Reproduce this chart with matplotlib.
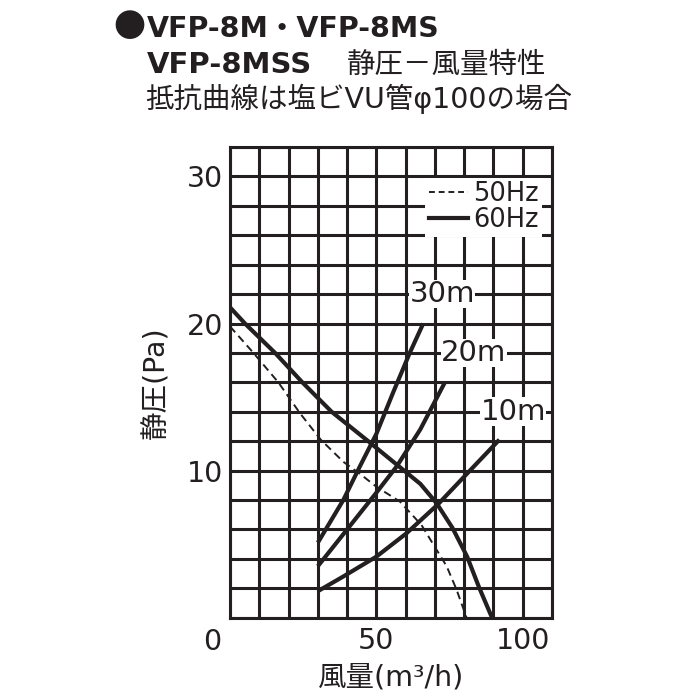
import matplotlib
matplotlib.use("Agg")
import matplotlib.pyplot as plt
from matplotlib.ticker import MultipleLocator
from matplotlib.lines import Line2D

plt.rcParams['font.family'] = ['DejaVu Sans', 'Noto Sans CJK JP']

ink = '#231f20'

# 静圧-風量特性
q_60 = [0, 5.1, 15.4, 24.7, 34.7, 47.2, 57, 65, 70.5, 76, 81, 85, 89.5]
p_60 = [21.1, 20.0, 18.0, 16.0, 14.0, 12.0, 10.4, 9.1, 7.8, 6.1, 4.15, 2.1, 0]
q_50 = [0, 8, 16.5, 23.9, 31, 38.7, 44.9, 50, 58, 65.4, 70, 74, 77.4, 80.8]
p_50 = [19.8, 18.0, 16.0, 13.9, 12.1, 10.6, 9.7, 8.9, 7.9, 6.3, 4.8, 3.5, 1.9, 0]

# 抵抗曲線
q_30m = [30, 38.7, 44.4, 50, 55.7, 61.4, 66]
p_30m = [5.1, 8.0, 10.3, 12.5, 15.3, 18.0, 20.0]
q_20m = [30, 40, 50, 57, 65, 73.4]
p_20m = [3.5, 6.0, 8.5, 10.3, 12.8, 16.0]
q_10m = [30, 38.7, 50, 60.3, 71, 81, 92]
p_10m = [1.8, 2.8, 4.15, 5.74, 7.7, 9.8, 12.1]

pipe_labels = ['30m', '20m', '10m']
label_pos = [(72.5, 22), (83.3, 18), (96.7, 14)]

fig = plt.figure(figsize=(7, 7), dpi=100)
ax = fig.add_axes([0.3286, 0.1176, 0.46, 0.6724])

ax.set_xlim(0, 110)
ax.set_ylim(0, 32)
ax.xaxis.set_minor_locator(MultipleLocator(10))
ax.yaxis.set_minor_locator(MultipleLocator(2))
ax.grid(True, which='both', color=ink, lw=2.2)
ax.set_axisbelow(True)
for s in ax.spines.values():
    s.set_color(ink)
    s.set_linewidth(2.2)
ax.set_xticks([50, 100])
ax.set_yticks([10, 20, 30])
ax.tick_params(which='both', length=0, labelsize=20.5, colors=ink)
ax.tick_params(axis='x', pad=7)
ax.tick_params(axis='y', pad=5)
ax.text(-0.055, -0.022, '0', transform=ax.transAxes, ha='center', va='top',
        fontsize=20.5, color=ink)

ax.plot(q_50, p_50, color=ink, lw=1.4, ls=(0, (4, 2.5)))
ax.plot(q_60, p_60, color=ink, lw=3)
for q, p in [(q_30m, p_30m), (q_20m, p_20m), (q_10m, p_10m)]:
    ax.plot(q, p, color=ink, lw=3, solid_capstyle='butt')

for t, (x, y) in zip(pipe_labels, label_pos):
    ax.text(x, y, t, ha='center', va='center', fontsize=21, color=ink,
            bbox=dict(facecolor='white', edgecolor='none', pad=0.3))

handles = [Line2D([], [], color=ink, lw=1.4, ls=(0, (3, 2))),
           Line2D([], [], color=ink, lw=3)]
leg = ax.legend(handles, ['50Hz', '60Hz'], loc='upper right',
                bbox_to_anchor=(0.97, 0.935), fontsize=18.5, frameon=True,
                fancybox=False, framealpha=1, facecolor='white',
                edgecolor='none', borderpad=0.15, handlelength=1.5,
                handletextpad=0.2, labelspacing=0.0, borderaxespad=0)
for txt in leg.get_texts():
    txt.set_color(ink)

ax.set_xlabel('風量(m³/h)', fontsize=20.5, color=ink, labelpad=6)
ax.set_ylabel('静圧(Pa)', fontsize=20.5, color=ink, labelpad=12)

fig.text(0.162, 0.947, '●', fontsize=23, color=ink, ha='left',
         va='baseline', family=['Noto Sans CJK JP'])
fig.text(0.21, 0.947, 'VFP-8M・VFP-8MS', fontsize=20.5, fontweight='bold',
         color=ink, ha='left', va='baseline')
fig.text(0.21, 0.896, 'VFP-8MSS', fontsize=21, fontweight='bold',
         color=ink, ha='left', va='baseline')
fig.text(0.496, 0.896, '静圧－風量特性', fontsize=20.5, color=ink,
         ha='left', va='baseline')
fig.text(0.207, 0.846, '抵抗曲線は塩ビVU管φ100の場合', fontsize=20.5,
         color=ink, ha='left', va='baseline')

fig.savefig('out.png', dpi=100, facecolor='white')
